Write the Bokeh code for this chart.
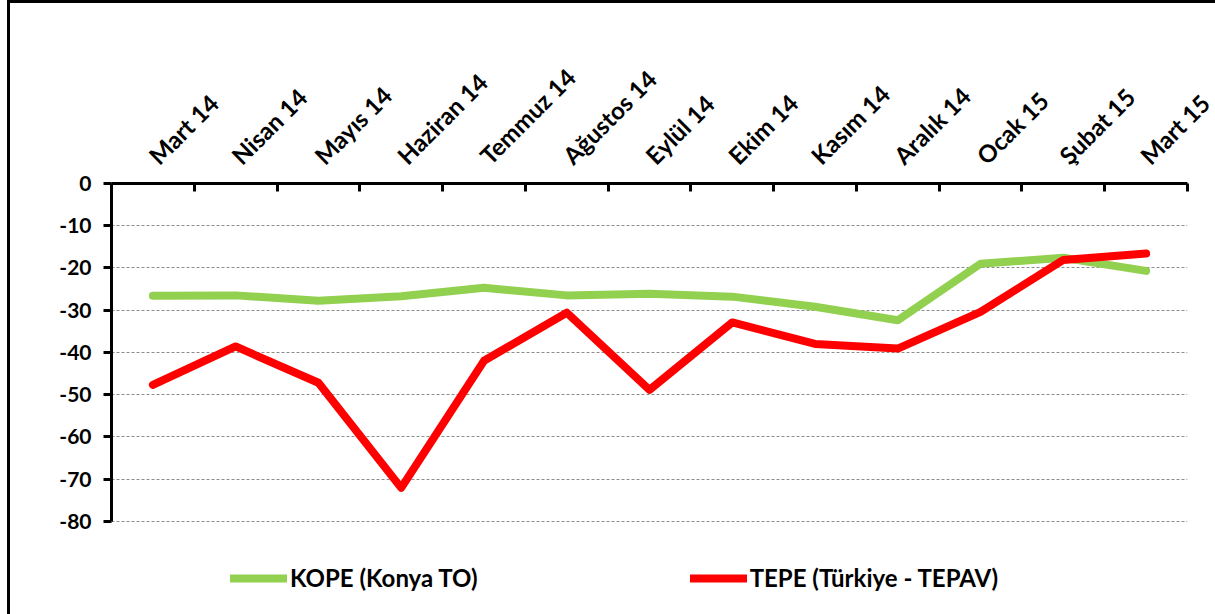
import numpy as np
from bokeh.plotting import figure
from bokeh.models import Range1d, FixedTicker, Legend, LegendItem, LinearAxis
from bokeh.embed import file_html
from bokeh.resources import INLINE

categories = ["Mart 14", "Nisan 14", "Mayıs 14", "Haziran 14", "Temmuz 14", "Ağustos 14",
              "Eylül 14", "Ekim 14", "Kasım 14", "Aralık 14", "Ocak 15", "Şubat 15", "Mart 15"]
kope = [-26.6, -26.5, -27.8, -26.7, -24.7, -26.5, -26.1, -26.8, -29.2, -32.4, -19.0, -17.6, -20.7]
tepe = [-47.7, -38.6, -47.2, -72.1, -42.0, -30.6, -48.9, -32.9, -38.0, -39.1, -30.4, -18.1, -16.6]
y_ticks = [0, -10, -20, -30, -40, -50, -60, -70, -80]
y_tick_labels = ["0", "-10", "-20", "-30", "-40", "-50", "-60", "-70", "-80"]

FONT = "Lato"
n = len(categories)
x = np.arange(n) + 0.5

# frame extends below -80 to host the legend; the y axis line is bounded to [-80, 0]
p = figure(width=1208, height=614, output_backend="svg", toolbar_location=None,
           x_range=Range1d(0, n), y_range=Range1d(-102.8, 0),
           x_axis_location=None, min_border_left=101, min_border_right=31,
           min_border_top=180, min_border_bottom=0)
p.outline_line_color = None
p.styles = {"margin-left": "7px", "border-top": "3px solid black",
            "border-left": "3px solid black", "box-sizing": "border-box"}

# y axis
yax = p.yaxis[0]
yax.ticker = FixedTicker(ticks=y_ticks)
yax.major_label_overrides = {t: s for t, s in zip(y_ticks, y_tick_labels)}
yax.bounds = (min(y_ticks), max(y_ticks))
yax.axis_line_width = 3
yax.axis_line_color = "black"
yax.major_tick_line_width = 3
yax.major_tick_in = 0
yax.major_tick_out = 8
yax.minor_tick_line_color = None
yax.major_label_text_font = FONT
yax.major_label_text_font_style = "bold"
yax.major_label_text_font_size = "21px"
yax.major_label_text_color = "black"
yax.major_label_standoff = 12

# top x axis: labels at centers, tick marks at category boundaries
xax = LinearAxis(ticker=FixedTicker(ticks=list(x), minor_ticks=list(range(n + 1))))
xax.major_label_overrides = {float(v): c for v, c in zip(x, categories)}
xax.major_label_orientation = np.pi / 4
xax.axis_line_width = 3
xax.axis_line_color = "black"
xax.major_tick_line_color = None
xax.minor_tick_line_color = "black"
xax.minor_tick_line_width = 3
xax.minor_tick_in = 8
xax.minor_tick_out = 0
xax.major_label_text_font = FONT
xax.major_label_text_font_style = "bold"
xax.major_label_text_font_size = "24px"
xax.major_label_text_color = "black"
xax.major_label_standoff = 18
p.add_layout(xax, "above")

p.xgrid.visible = False
p.ygrid.ticker = FixedTicker(ticks=y_ticks[1:])
p.ygrid.grid_line_color = "#8c8c8c"
p.ygrid.grid_line_dash = "3 2"
p.ygrid.grid_line_width = 1

g = p.line(x, kope, line_color="#92D050", line_width=8, line_cap="round", line_join="round")
r = p.line(x, tepe, line_color="#FF0000", line_width=8, line_cap="round", line_join="round")

legend = Legend(items=[LegendItem(label="KOPE (Konya TO)", renderers=[g]),
                       LegendItem(label="TEPE (Türkiye - TEPAV)", renderers=[r])],
                orientation="horizontal", location=(119, 25),
                glyph_width=57, glyph_height=24, label_standoff=3, spacing=212,
                padding=0, margin=0, border_line_color=None, background_fill_alpha=0,
                label_text_font=FONT, label_text_font_style="bold",
                label_text_font_size="24px", label_text_color="black")
p.add_layout(legend, "center")

open("out.html", "w").write(file_html(p, INLINE))
